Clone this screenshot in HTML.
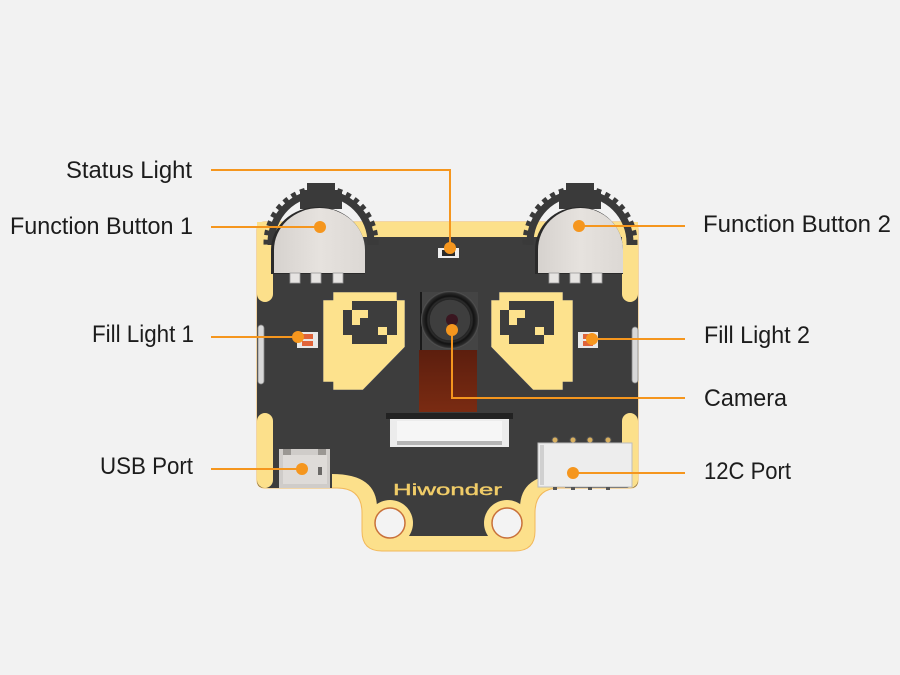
<!DOCTYPE html>
<html><head><meta charset="utf-8"><style>
html,body{margin:0;padding:0;background:#f2f2f2;}
svg{display:block;}
</style></head><body>
<svg width="900" height="675" viewBox="0 0 900 675" xmlns="http://www.w3.org/2000/svg">
<defs>
<clipPath id="gc"><rect x="0" y="0" width="900" height="245"/></clipPath>
<linearGradient id="flex" x1="0" y1="0" x2="0" y2="1"><stop offset="0" stop-color="#5c1e0e"/><stop offset="1" stop-color="#7a2b12"/></linearGradient>
<linearGradient id="btn" x1="0" y1="0" x2="1" y2="0"><stop offset="0" stop-color="#d6d2ce"/><stop offset="0.5" stop-color="#e6e2de"/><stop offset="1" stop-color="#dcd8d4"/></linearGradient>
<radialGradient id="lens" cx="0.5" cy="0.5" r="0.5"><stop offset="0.72" stop-color="#3e3e3e"/><stop offset="0.82" stop-color="#121212"/><stop offset="0.94" stop-color="#2a2a2a"/><stop offset="1" stop-color="#5a5a5a"/></radialGradient>
</defs>
<rect width="900" height="675" fill="#f2f2f2"/>

<!-- board outer (gold) -->
<path d="M265,222 H630 Q638,222 638,230 V480 Q638,488 630,488 H560 Q535,488 535,513 V531 Q535,551 515,551 H382 Q362,551 362,531 V513 Q362,488 337,488 H265 Q257,488 257,480 V230 Q257,222 265,222 Z" fill="#fce08b" stroke="#f2b85a" stroke-width="1"/>
<!-- dark mask -->
<path d="M257,237 H638 V480 Q638,488 630,488 H565 V474 Q520,474 520,508 V536 H377 V508 Q377,474 332,474 V488 H265 Q257,488 257,480 Z" fill="#3d3d3d"/>
<!-- gold side bars -->
<rect x="257" y="222" width="16" height="80" rx="8" fill="#fce08b"/>
<rect x="257" y="413" width="16" height="75" rx="8" fill="#fce08b"/>
<rect x="622" y="222" width="16" height="80" rx="8" fill="#fce08b"/>
<rect x="622" y="413" width="16" height="75" rx="8" fill="#fce08b"/>
<rect x="257" y="222" width="381" height="15" fill="#fce08b"/>
<!-- holes -->
<circle cx="390" cy="523" r="23" fill="#fce08b"/>
<circle cx="390" cy="523" r="15" fill="#f3f3f3" stroke="#c8703a" stroke-width="1.5"/>
<circle cx="507" cy="523" r="23" fill="#fce08b"/>
<circle cx="507" cy="523" r="15" fill="#f3f3f3" stroke="#c8703a" stroke-width="1.5"/>

<!-- side slots -->
<rect x="258" y="325" width="6" height="59" rx="3" fill="#d8d8d8" stroke="#888" stroke-width="0.8"/>
<rect x="632" y="327" width="6" height="56" rx="3" fill="#d8d8d8" stroke="#888" stroke-width="0.8"/>

<!-- gears -->
<g clip-path="url(#gc)" fill="none" stroke="#3a3a3a">
  <circle cx="321" cy="243" r="50" stroke-width="7"/>
  <circle cx="321" cy="243" r="55" stroke-width="5" stroke-dasharray="5 4.5"/>
  <circle cx="580" cy="243" r="50" stroke-width="7"/>
  <circle cx="580" cy="243" r="55" stroke-width="5" stroke-dasharray="5 4.5"/>
</g>
<polygon points="307,183 335,183 335,190 342,190 342,209 300,209 300,190 307,190" fill="#3a3a3a"/>
<polygon points="566,183 594,183 594,190 601,190 601,209 559,209 559,190 566,190" fill="#3a3a3a"/>

<!-- buttons -->
<path d="M271,274 V250 A47 43 0 0 1 365,250 V274 Z" fill="#2a2a2a"/>
<path d="M274,273 V250 A45.5 42 0 0 1 365,250 V273 Z" fill="url(#btn)"/>
<path d="M535,274 V250 A44 43 0 0 1 623,250 V274 Z" fill="#2a2a2a"/>
<path d="M538,273 V250 A42.5 42 0 0 1 623,250 V273 Z" fill="url(#btn)"/>
<g fill="#e6e4e2" stroke="#9a9a9a" stroke-width="0.8">
  <rect x="290" y="273" width="10" height="10"/><rect x="311" y="273" width="10" height="10"/><rect x="333" y="273" width="10" height="10"/>
  <rect x="549" y="273" width="10" height="10"/><rect x="570" y="273" width="10" height="10"/><rect x="592" y="273" width="10" height="10"/>
</g>

<!-- status light -->
<rect x="438" y="248" width="21" height="10" fill="#eeeeee"/>
<rect x="442" y="250" width="13" height="6" fill="#2a2a2a"/>

<!-- eyes -->
<polygon points="333,292 397,292 397,300 405,300 405,347 363,390 333,390 333,382 323,382 323,300 333,300" fill="#fde28d" stroke="#3a3f55" stroke-width="0.6"/>
<polygon points="563,292 499,292 499,300 491,300 491,347 533,390 563,390 563,382 573,382 573,300 563,300" fill="#fde28d" stroke="#3a3f55" stroke-width="0.6"/>
<g fill="#3d3d3d">
  <rect x="352" y="301" width="45" height="9"/><rect x="343" y="310" width="54" height="25"/><rect x="352" y="335" width="35" height="9"/>
  <rect x="509" y="301" width="45" height="9"/><rect x="500" y="310" width="54" height="25"/><rect x="509" y="335" width="35" height="9"/>
</g>
<g fill="#fde28d">
  <rect x="352" y="310" width="16" height="8"/><rect x="352" y="318" width="8" height="7"/><rect x="378" y="327" width="9" height="8"/>
  <rect x="509" y="310" width="16" height="8"/><rect x="509" y="318" width="8" height="7"/><rect x="535" y="327" width="9" height="8"/>
</g>

<!-- fill lights -->
<rect x="297" y="332" width="21" height="16" fill="#e8e8e8"/>
<rect x="302" y="334" width="11" height="5" fill="#e0643a"/><rect x="302" y="341" width="11" height="5" fill="#e0643a"/>
<rect x="578" y="332" width="20" height="16" fill="#e8e8e8"/>
<rect x="583" y="334" width="10" height="5" fill="#e0643a"/><rect x="583" y="341" width="10" height="5" fill="#e0643a"/>

<!-- camera -->
<rect x="419" y="350" width="58" height="62" fill="url(#flex)"/>
<rect x="420" y="292" width="58" height="58" fill="#444"/>
<rect x="420" y="292" width="2" height="58" fill="#1a1a1a"/>
<circle cx="450" cy="320" r="29" fill="url(#lens)"/>
<circle cx="450" cy="320" r="21" fill="none" stroke="#262626" stroke-width="1.5"/>
<circle cx="452" cy="320" r="6" fill="#3a1620"/>

<!-- FPC connector -->
<rect x="386" y="413" width="127" height="6" fill="#222"/>
<rect x="390" y="419" width="119" height="28" fill="#ececec"/>
<rect x="397" y="421" width="105" height="20" fill="#f6f6f6"/>
<rect x="397" y="441" width="105" height="4" fill="#b5b5b5"/>

<!-- USB -->
<rect x="279" y="449" width="51" height="39" fill="#cfccc9"/>
<rect x="283" y="455" width="44" height="29" fill="#dedbd8"/>
<rect x="283" y="449" width="8" height="6" fill="#9a9793"/><rect x="318" y="449" width="8" height="6" fill="#9a9793"/>
<rect x="318" y="467" width="4" height="8" fill="#6a6866"/>

<!-- I2C -->
<g fill="#d9b060" stroke="#555" stroke-width="1">
  <circle cx="555" cy="440" r="3"/><circle cx="573" cy="440" r="3"/><circle cx="590" cy="440" r="3"/><circle cx="608" cy="440" r="3"/>
</g>
<rect x="538" y="443" width="94" height="44" fill="#ededed" stroke="#bdbdbd" stroke-width="1"/>
<rect x="540" y="445" width="4" height="40" fill="#d0d0d0"/>
<g fill="#555"><rect x="553" y="487" width="4" height="3"/><rect x="571" y="487" width="4" height="3"/><rect x="588" y="487" width="4" height="3"/><rect x="606" y="487" width="4" height="3"/></g>

<!-- logo -->
<text x="393" y="495" font-family="Liberation Sans, sans-serif" font-size="16" fill="#f0cc68" stroke="#f0cc68" stroke-width="0.4" textLength="109" lengthAdjust="spacingAndGlyphs">Hiwonder</text>

<!-- connectors -->
<g fill="none" stroke="#f5961e" stroke-width="2">
  <polyline points="211,170 450,170 450,248"/>
  <line x1="211" y1="227" x2="320" y2="227"/>
  <line x1="579" y1="226" x2="685" y2="226"/>
  <line x1="211" y1="337" x2="298" y2="337"/>
  <line x1="592" y1="339" x2="685" y2="339"/>
  <polyline points="452,330 452,398 685,398"/>
  <line x1="211" y1="469" x2="302" y2="469"/>
  <line x1="573" y1="473" x2="685" y2="473"/>
</g>
<g fill="#f5961e">
  <circle cx="450" cy="248" r="6"/>
  <circle cx="320" cy="227" r="6"/>
  <circle cx="579" cy="226" r="6"/>
  <circle cx="298" cy="337" r="6"/>
  <circle cx="592" cy="339" r="6"/>
  <circle cx="452" cy="330" r="6"/>
  <circle cx="302" cy="469" r="6"/>
  <circle cx="573" cy="473" r="6"/>
</g>

<!-- labels -->
<g font-family="Liberation Sans, sans-serif" font-size="24" fill="#1c1c1c">
  <text x="66" y="178" textLength="126" lengthAdjust="spacingAndGlyphs">Status Light</text>
  <text x="10" y="234" textLength="183" lengthAdjust="spacingAndGlyphs">Function Button 1</text>
  <text x="92" y="342" textLength="102" lengthAdjust="spacingAndGlyphs">Fill Light 1</text>
  <text x="100" y="474" textLength="93" lengthAdjust="spacingAndGlyphs">USB Port</text>
  <text x="703" y="232" textLength="188" lengthAdjust="spacingAndGlyphs">Function Button 2</text>
  <text x="704" y="343" textLength="106" lengthAdjust="spacingAndGlyphs">Fill Light 2</text>
  <text x="704" y="406" textLength="83" lengthAdjust="spacingAndGlyphs">Camera</text>
  <text x="704" y="479" textLength="87" lengthAdjust="spacingAndGlyphs">12C Port</text>
</g>
</svg>
</body></html>
